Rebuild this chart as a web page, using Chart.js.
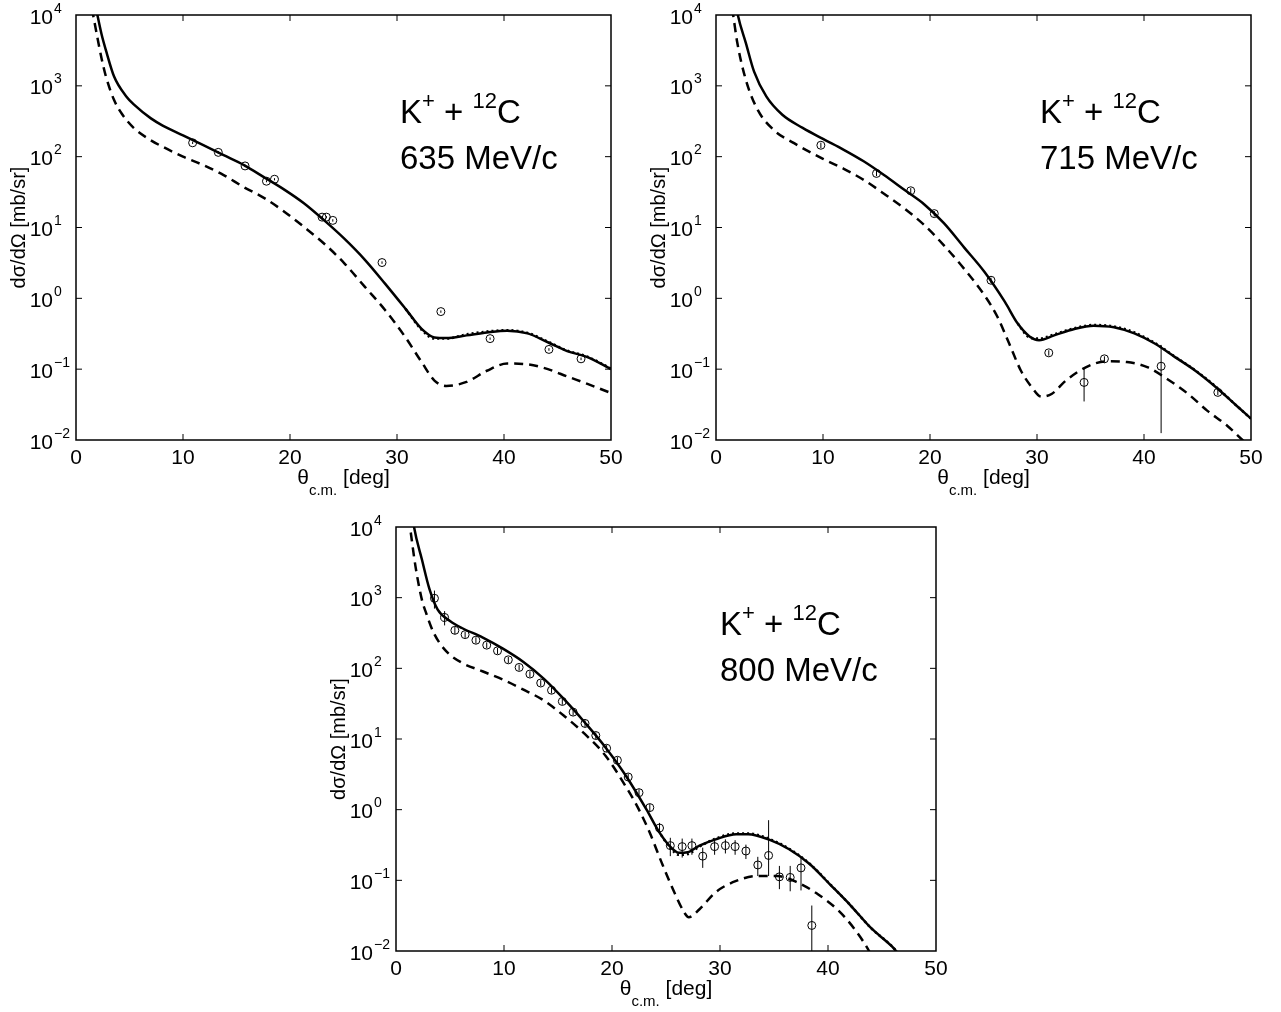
<!DOCTYPE html>
<html>
<head>
<meta charset="utf-8">
<script src="https://cdn.jsdelivr.net/npm/chart.js@4.4.1/dist/chart.umd.min.js"></script>
<style>
  html, body { margin: 0; padding: 0; background: #fff; }
  #wrap { position: relative; width: 1281px; height: 1012px; }
  canvas { position: absolute; }
</style>
</head>
<body>
<div id="wrap">
  <canvas id="c635" width="640" height="500" style="left:0;top:0"></canvas>
  <canvas id="c715" width="641" height="500" style="left:640px;top:0"></canvas>
  <canvas id="c800" width="640" height="512" style="left:320px;top:500px"></canvas>
</div>
<script>
// axis ticks shared by the three panels
const xTicks = [0, 10, 20, 30, 40, 50];
const yTicks = [1e-2, 1e-1, 1, 10, 100, 1000, 10000];
const yExponents = ["\u22122", "\u22121", "0", "1", "2", "3", "4"];

// ---- 635 MeV/c ----
const solid635X = [1.6, 2.0, 2.4, 2.8, 3.56, 4.7, 5.45, 7.0, 8.1, 10, 11.9, 13.8, 15.7, 17.6, 19.5, 21.3, 23.2, 25.1, 27.0, 28.9, 30.8, 32.3, 33.5, 34.6, 36.5, 38.4, 40.3, 42.2, 44.1, 45.9, 47.8, 50];
const solid635Y = [20000, 10000, 5250, 3160, 1350, 708, 537, 347, 275, 200, 145, 105, 76, 51, 34, 22, 12.6, 6.9, 3.5, 1.6, 0.71, 0.37, 0.28, 0.275, 0.30, 0.33, 0.35, 0.32, 0.24, 0.18, 0.148, 0.10];
const dotted635X = [30.8, 32.3, 33.5, 34.6, 36.5, 38.4, 40.3, 42.2, 44.1, 45.9, 47.8, 50];
const dotted635Y = [0.71, 0.36, 0.27, 0.27, 0.31, 0.34, 0.355, 0.325, 0.245, 0.183, 0.15, 0.102];
const dash635X = [1.2, 1.6, 2.0, 2.4, 2.8, 3.56, 4.3, 5.45, 7.0, 8.1, 10, 11.9, 13.8, 15.7, 17.6, 19.5, 21.3, 23.2, 25.1, 27.0, 28.9, 30.8, 32.3, 33.5, 34.6, 36.5, 38.4, 40.3, 42.2, 44.1, 45.9, 47.8, 50];
const dash635Y = [20000, 10000, 4800, 2400, 1350, 630, 400, 250, 170, 138, 100, 76, 55, 37, 26, 16.6, 10.2, 5.9, 3.1, 1.45, 0.68, 0.28, 0.126, 0.069, 0.058, 0.066, 0.095, 0.12, 0.117, 0.10, 0.079, 0.062, 0.046];
const data635X = [10.9, 13.3, 15.8, 17.8, 18.55, 23.0, 23.4, 24.0, 28.6, 34.1, 38.7, 44.2, 47.2];
const data635Y = [157, 115, 74, 45, 48, 14.0, 14.0, 12.6, 3.2, 0.65, 0.27, 0.19, 0.14];
const data635Lo = [151, 110, 71, 43.5, 46.3, 13.5, 13.5, 12.1, 3.07, 0.625, 0.26, 0.182, 0.134];
const data635Hi = [163, 120, 77, 46.5, 49.7, 14.5, 14.5, 13.1, 3.33, 0.675, 0.28, 0.198, 0.146];

// ---- 715 MeV/c ----
const solid715X = [1.7, 2.04, 2.8, 3.56, 4.7, 6.2, 8.1, 10, 11.9, 13.8, 15.7, 17.6, 19.5, 21.3, 23.2, 25.1, 27.0, 28.2, 29.3, 30.2, 31.6, 33.5, 35.3, 37.2, 39.1, 41.0, 42.9, 44.8, 46.7, 48.6, 50];
const solid715Y = [20000, 10000, 3980, 1585, 708, 390, 255, 178, 126, 86, 55, 34, 21, 11.5, 5.2, 2.35, 0.89, 0.44, 0.29, 0.257, 0.30, 0.37, 0.41, 0.39, 0.32, 0.23, 0.148, 0.095, 0.056, 0.031, 0.020];
const dotted715X = [28.2, 29.3, 30.2, 31.6, 33.5, 35.3, 37.2, 39.1, 41.0, 42.9, 44.8, 46.7, 48.6, 50];
const dotted715Y = [0.44, 0.28, 0.27, 0.31, 0.38, 0.42, 0.40, 0.33, 0.235, 0.15, 0.096, 0.057, 0.031, 0.020];
const dash715X = [1.25, 1.6, 2.0, 2.8, 3.9, 5.45, 7.3, 10, 11.9, 13.8, 15.7, 17.6, 19.5, 21.3, 23.2, 25.1, 26.3, 27.4, 28.5, 29.5, 30.4, 31.4, 32.7, 34.6, 36.5, 38.4, 40.3, 42.2, 44.1, 45.9, 47.8, 49.2, 50];
const dash715Y = [20000, 10000, 3980, 1200, 457, 234, 155, 93, 68, 47, 30, 18.6, 10.7, 5.6, 2.6, 1.1, 0.55, 0.23, 0.095, 0.056, 0.041, 0.045, 0.069, 0.107, 0.129, 0.126, 0.107, 0.072, 0.045, 0.026, 0.0158, 0.010, 0.0076];
const data715X = [9.8, 15.0, 18.2, 20.4, 25.7, 31.1, 34.4, 36.3, 41.6, 46.9];
const data715Y = [145, 58, 33, 15.7, 1.8, 0.17, 0.065, 0.14, 0.11, 0.047];
const data715Lo = [132, 53, 30, 14.3, 1.64, 0.155, 0.035, 0.128, 0.0125, 0.043];
const data715Hi = [158, 63, 36, 17.1, 1.96, 0.185, 0.105, 0.152, 0.22, 0.051];

// ---- 800 MeV/c ----
const solid800X = [1.4, 1.67, 2.4, 3.1, 3.86, 5.0, 6.1, 8.0, 9.9, 11.8, 13.7, 15.6, 17.5, 19.4, 21.3, 23.2, 24.3, 25.3, 26.2, 27.0, 28.1, 29.6, 31.5, 32.6, 34.5, 36.4, 38.3, 40.2, 42.1, 44.0, 45.9, 46.6];
const solid800Y = [20000, 10000, 3470, 1320, 676, 468, 372, 275, 190, 123, 71, 36, 17, 7.6, 3.0, 1.0, 0.50, 0.31, 0.245, 0.25, 0.31, 0.38, 0.45, 0.45, 0.38, 0.275, 0.17, 0.087, 0.044, 0.021, 0.0117, 0.0089];
const dotted800X = [24.3, 25.3, 26.2, 27.0, 28.1, 29.6, 31.5, 32.6, 34.5, 36.4, 38.3, 40.2, 42.1, 44.0, 45.9, 46.6];
const dotted800Y = [0.50, 0.30, 0.23, 0.235, 0.30, 0.39, 0.46, 0.46, 0.39, 0.28, 0.172, 0.088, 0.044, 0.021, 0.0118, 0.009];
const dash800X = [1.0, 1.3, 1.8, 2.4, 2.8, 3.5, 4.6, 6.1, 8.0, 9.9, 11.8, 13.7, 15.6, 17.5, 19.4, 21.3, 22.4, 23.5, 24.6, 25.8, 26.7, 27.1, 28.1, 29.6, 31.5, 33.4, 35.3, 37.2, 39.1, 41.0, 42.5, 43.8, 44.3];
const dash800Y = [22000, 10000, 2800, 930, 600, 316, 178, 120, 91, 69, 50, 35, 21, 11.7, 5.8, 2.1, 1.07, 0.47, 0.178, 0.066, 0.035, 0.030, 0.039, 0.068, 0.098, 0.115, 0.115, 0.093, 0.063, 0.037, 0.020, 0.010, 0.007];
const data800X = [3.56, 4.5, 5.45, 6.4, 7.4, 8.4, 9.4, 10.4, 11.4, 12.4, 13.4, 14.4, 15.4, 16.4, 17.5, 18.5, 19.5, 20.5, 21.5, 22.5, 23.5, 24.4, 25.4, 26.5, 27.4, 28.4, 29.5, 30.5, 31.4, 32.4, 33.5, 34.5, 35.5, 36.5, 37.5, 38.5];
const data800Y = [980, 525, 345, 300, 250, 213, 177, 132, 103, 83, 62, 49, 34, 24, 16.6, 11.2, 7.4, 5.0, 2.9, 1.74, 1.07, 0.55, 0.31, 0.30, 0.31, 0.22, 0.30, 0.31, 0.30, 0.26, 0.165, 0.225, 0.112, 0.110, 0.15, 0.023];
const data800Lo = [700, 405, 305, 270, 225, 193, 160, 119, 93, 75, 56, 44, 30.5, 21.5, 14.8, 10.0, 6.6, 4.45, 2.57, 1.54, 0.94, 0.45, 0.22, 0.21, 0.23, 0.15, 0.23, 0.24, 0.23, 0.2, 0.115, 0.115, 0.075, 0.07, 0.072, 0.004];
const data800Hi = [1260, 645, 385, 330, 275, 233, 194, 145, 113, 91, 68, 54, 37.5, 26.5, 18.4, 12.4, 8.2, 5.55, 3.23, 1.94, 1.2, 0.65, 0.40, 0.39, 0.39, 0.29, 0.37, 0.38, 0.37, 0.32, 0.215, 0.71, 0.16, 0.16, 0.22, 0.044];

const FONT = '"Liberation Sans", Arial, Helvetica, sans-serif';

function txt(ctx, s, x, y, size, align) {
  ctx.font = size + "px " + FONT;
  ctx.textAlign = align || "left";
  ctx.textBaseline = "alphabetic";
  ctx.fillText(s, x, y);
  return ctx.measureText(s).width;
}

function pts(xs, ys) {
  return xs.map((x, i) => ({ x: x, y: ys[i] }));
}

const framePlugin = {
  id: "frame",
  afterDatasetsDraw(chart, args, opts) {
    // error bars of the measured points
    const ctx = chart.ctx, a = chart.chartArea;
    const sx = chart.scales.x, sy = chart.scales.y;
    ctx.save();
    ctx.strokeStyle = "#000";
    ctx.lineWidth = 1;
    opts.errX.forEach((t, i) => {
      const px = sx.getPixelForValue(t);
      const y1 = Math.max(a.top, sy.getPixelForValue(opts.errHi[i]));
      const y2 = Math.min(a.bottom, sy.getPixelForValue(opts.errLo[i]));
      ctx.beginPath();
      ctx.moveTo(px, y1);
      ctx.lineTo(px, y2);
      ctx.stroke();
    });
    ctx.restore();
  },
  afterDraw(chart, args, opts) {
    const ctx = chart.ctx, a = chart.chartArea;
    const sx = chart.scales.x, sy = chart.scales.y;
    ctx.save();
    ctx.strokeStyle = "#000";
    ctx.fillStyle = "#000";

    // box
    ctx.lineWidth = 1.5;
    ctx.strokeRect(a.left, a.top, a.right - a.left, a.bottom - a.top);

    // inward ticks on all four sides
    ctx.lineWidth = 1;
    const tl = 6;
    const seg = (x1, y1, x2, y2) => {
      ctx.beginPath(); ctx.moveTo(x1, y1); ctx.lineTo(x2, y2); ctx.stroke();
    };
    sx.ticks.forEach(t => {
      const px = sx.getPixelForValue(t.value);
      if (px <= a.left + 1 || px >= a.right - 1) return;
      seg(px, a.bottom, px, a.bottom - tl);
      seg(px, a.top, px, a.top + tl);
    });
    sy.ticks.forEach(t => {
      const py = sy.getPixelForValue(t.value);
      if (py <= a.top + 1 || py >= a.bottom - 1) return;
      seg(a.left, py, a.left + tl, py);
      seg(a.right, py, a.right - tl, py);
    });

    // tick labels
    sx.ticks.forEach(t => {
      txt(ctx, String(t.value), sx.getPixelForValue(t.value), a.bottom + 24, 21, "center");
    });
    sy.ticks.forEach((t, i) => {
      const py = sy.getPixelForValue(t.value);
      txt(ctx, "10", a.left - 23, py + 8.5, 21, "right");
      txt(ctx, yExponents[i], a.left - 22, py - 2.5, 14, "left");
    });

    // x title: theta_c.m. [deg]
    ctx.font = "21px " + FONT;
    const w1 = ctx.measureText("\u03b8").width;
    const w3 = ctx.measureText(" [deg]").width;
    ctx.font = "15px " + FONT;
    const w2 = ctx.measureText("c.m.").width;
    let tx = (a.left + a.right) / 2 - (w1 + w2 + w3) / 2;
    const ty = a.bottom + 44;
    tx += txt(ctx, "\u03b8", tx, ty, 21);
    tx += txt(ctx, "c.m.", tx, ty + 11, 15);
    txt(ctx, " [deg]", tx, ty, 21);

    // y title
    ctx.save();
    ctx.translate(19, (a.top + a.bottom) / 2);
    ctx.rotate(-Math.PI / 2);
    ctx.font = "20px " + FONT;
    ctx.textAlign = "center";
    ctx.textBaseline = "middle";
    ctx.fillText("d\u03c3/d\u03a9 [mb/sr]", 0, 0);
    ctx.restore();

    // reaction label
    let kx = a.left + 324;
    const ky = a.top + 108;
    kx += txt(ctx, "K", kx, ky, 33);
    kx += txt(ctx, "+", kx, ky - 15, 22);
    kx += txt(ctx, " + ", kx, ky, 33);
    kx += txt(ctx, "12", kx, ky - 15, 22);
    txt(ctx, "C", kx, ky, 33);
    txt(ctx, opts.label, a.left + 324, a.top + 154, 33);

    ctx.restore();
  }
};

function makePanel(id, label, pad, xHeight, solidX, solidY, dotX, dotY, dashX, dashY, dX, dY, dLo, dHi) {
  const ctx = document.getElementById(id).getContext("2d");
  return new Chart(ctx, {
    type: "scatter",
    data: {
      datasets: [
        {
          data: pts(solidX, solidY),
          showLine: true,
          borderColor: "#000",
          borderWidth: 2.5,
          pointRadius: 0,
          cubicInterpolationMode: "monotone",
        },
        {
          data: pts(dotX, dotY),
          showLine: true,
          borderColor: "#000",
          borderWidth: 2.5,
          borderDash: [2, 3],
          pointRadius: 0,
          cubicInterpolationMode: "monotone",
        },
        {
          data: pts(dashX, dashY),
          showLine: true,
          borderColor: "#000",
          borderWidth: 2.5,
          borderDash: [9, 6],
          pointRadius: 0,
          cubicInterpolationMode: "monotone",
        },
        {
          data: pts(dX, dY),
          showLine: false,
          pointStyle: "circle",
          pointRadius: 4,
          pointBorderWidth: 1,
          pointBorderColor: "#000",
          pointBackgroundColor: "rgba(0,0,0,0)",
        },
      ],
    },
    options: {
      responsive: false,
      animation: false,
      devicePixelRatio: 1,
      layout: { padding: pad },
      plugins: {
        legend: { display: false },
        tooltip: { enabled: false },
        frame: { label: label, errX: dX, errLo: dLo, errHi: dHi },
      },
      scales: {
        x: {
          type: "linear",
          min: 0,
          max: 50,
          grid: { display: false, drawTicks: false },
          border: { display: false },
          ticks: { display: false },
          afterBuildTicks: (s) => { s.ticks = xTicks.map(v => ({ value: v })); },
          afterFit: (s) => { s.height = xHeight; },
        },
        y: {
          type: "logarithmic",
          min: 1e-2,
          max: 1e4,
          grid: { display: false, drawTicks: false },
          border: { display: false },
          ticks: { display: false },
          afterBuildTicks: (s) => { s.ticks = yTicks.map(v => ({ value: v })); },
          afterFit: (s) => { s.width = 76; },
        },
      },
    },
    plugins: [framePlugin],
  });
}

makePanel("c635", "635 MeV/c", { left: 0, right: 29, top: 15, bottom: 0 }, 60,
  solid635X, solid635Y, dotted635X, dotted635Y, dash635X, dash635Y, data635X, data635Y, data635Lo, data635Hi);
makePanel("c715", "715 MeV/c", { left: 0, right: 30, top: 15, bottom: 0 }, 60,
  solid715X, solid715Y, dotted715X, dotted715Y, dash715X, dash715Y, data715X, data715Y, data715Lo, data715Hi);
makePanel("c800", "800 MeV/c", { left: 0, right: 24, top: 27, bottom: 0 }, 61,
  solid800X, solid800Y, dotted800X, dotted800Y, dash800X, dash800Y, data800X, data800Y, data800Lo, data800Hi);
</script>
</body>
</html>
